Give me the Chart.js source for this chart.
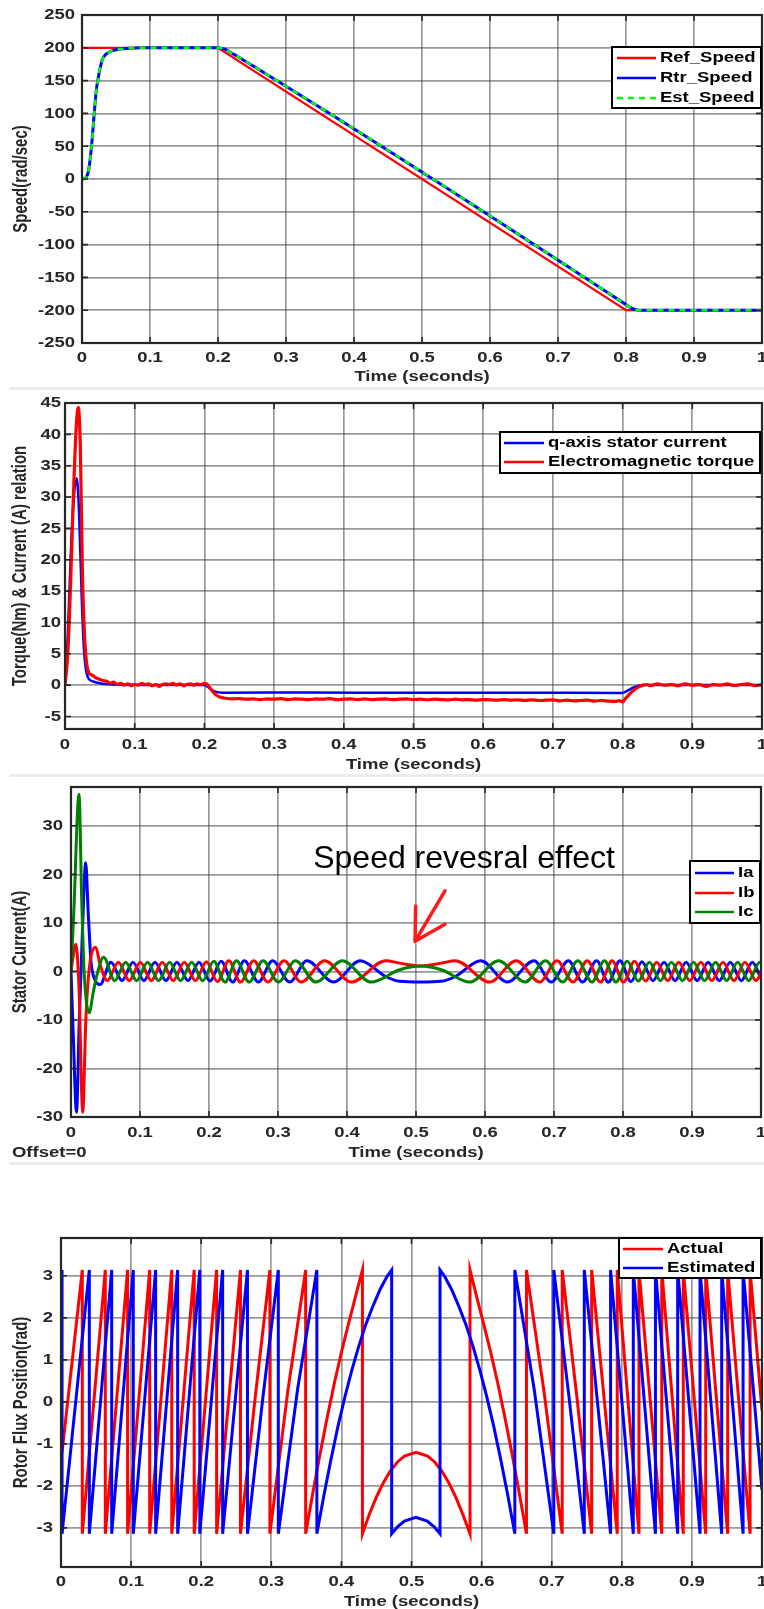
<!DOCTYPE html>
<html>
<head>
<meta charset="utf-8">
<title>Sensorless drive – speed reversal test</title>
<script src="https://cdn.jsdelivr.net/npm/chart.js@4.4.0/dist/chart.umd.min.js"></script>
<style>
  html, body { margin: 0; padding: 0; background: #fff; width: 764px; height: 1609px; overflow: hidden; }
  canvas { position: absolute; left: 0; }
  .sep { position: absolute; left: 9px; width: 755px; height: 3px; background: #ebebeb; }
</style>
</head>
<body>
<canvas id="cSpeed"></canvas>
<div class="sep" style="top:387px"></div>
<canvas id="cTorque"></canvas>
<div class="sep" style="top:774px"></div>
<canvas id="cCurrent"></canvas>
<div class="sep" style="top:1162px"></div>
<canvas id="cFlux"></canvas>
<script>
// ---------- shared time axis ----------
const TIME_TICKS  = [0, 0.1, 0.2, 0.3, 0.4, 0.5, 0.6, 0.7, 0.8, 0.9, 1];
const TIME_LABELS = ['0', '0.1', '0.2', '0.3', '0.4', '0.5', '0.6', '0.7', '0.8', '0.9', '1'];

// ---------- speed (rad/sec) ----------
const SPEED_TICKS  = [-250, -200, -150, -100, -50, 0, 50, 100, 150, 200, 250];
const SPEED_LABELS = ['-250', '-200', '-150', '-100', '-50', '0', '50', '100', '150', '200', '250'];
const SPEED_REF = [[0, 200], [0.2, 200], [0.8, -200], [1, -200]];
const SPEED_RTR = [[0, 0], [0.003, 0.5], [0.007, 4], [0.01, 15], [0.014, 50], [0.018, 100], [0.021, 135],
  [0.024, 155], [0.027, 171], [0.03, 182], [0.035, 190], [0.041, 194], [0.05, 197], [0.066, 199],
  [0.09, 200], [0.2, 200], [0.205, 199.5], [0.21, 198], [0.215, 195.5], [0.22, 192], [0.23, 186],
  [0.8, -191.5], [0.805, -195], [0.81, -197.8], [0.815, -199.3], [0.82, -200], [1, -200]];
const SPEED_EST = [[0, 0], [0.003, 0.5], [0.007, 4], [0.01, 15], [0.014, 49], [0.018, 99], [0.021, 134],
  [0.024, 155], [0.027, 171], [0.03, 182], [0.035, 190], [0.041, 194], [0.05, 197], [0.066, 199],
  [0.09, 200], [0.2, 200], [0.205, 199.5], [0.21, 198], [0.215, 195.5], [0.22, 192], [0.23, 186],
  [0.8, -191.5], [0.805, -195], [0.81, -197.8], [0.815, -199.3], [0.82, -200], [1, -200]];

// ---------- torque & q-axis current ----------
const TORQUE_TICKS  = [-5, 0, 5, 10, 15, 20, 25, 30, 35, 40, 45];
const TORQUE_LABELS = ['-5', '0', '5', '10', '15', '20', '25', '30', '35', '40', '45'];
const IQ_CURRENT = [[0, 0], [0.004, 8], [0.008, 20], [0.012, 29], [0.0168, 33], [0.02, 28], [0.024, 14],
  [0.027, 6], [0.03, 2.5], [0.033, 1.2], [0.036, 0.8], [0.04, 0.6], [0.05, 0.3], [0.07, 0.1], [0.1, 0.05],
  [0.13, 0], [0.16, 0.05], [0.2, 0], [0.205, -0.3], [0.21, -0.7], [0.215, -1.0], [0.225, -1.2], [0.35, -1.18],
  [0.5, -1.22], [0.65, -1.2], [0.8, -1.25], [0.805, -1.0], [0.81, -0.7], [0.815, -0.4], [0.82, -0.2],
  [0.83, 0], [0.9, 0.02], [1, 0]];
const EM_TORQUE = [[0, 0], [0.004, 5], [0.008, 16], [0.012, 30], [0.016, 41], [0.019, 44.3], [0.022, 38],
  [0.025, 18], [0.028, 8], [0.031, 3.5], [0.034, 2], [0.037, 1.7], [0.04, 1.5], [0.044, 1.2], [0.048, 1.0],
  [0.052, 0.8], [0.056, 0.7], [0.06, 0.6], [0.065, 0.3], [0.07, 0.5], [0.075, 0.1], [0.08, 0.3], [0.085, 0.0],
  [0.09, 0.2], [0.095, -0.1], [0.1, 0.1], [0.105, 0.0], [0.11, 0.3], [0.115, 0.1], [0.12, 0.2], [0.125, -0.1],
  [0.13, 0.1], [0.135, -0.2], [0.14, 0.1], [0.145, 0.2], [0.15, 0.1], [0.155, 0.3], [0.16, 0.0], [0.165, 0.2],
  [0.17, -0.1], [0.175, 0.1], [0.18, 0.2], [0.185, 0.0], [0.19, 0.2], [0.195, 0.1], [0.2, 0.3], [0.203, 0.2],
  [0.207, -0.3], [0.211, -0.9], [0.215, -1.4], [0.22, -1.8], [0.225, -2.0], [0.23, -2.1],
  [0.24, -2.2], [0.25, -2.15], [0.26, -2.25], [0.27, -2.2], [0.28, -2.3], [0.29, -2.2], [0.3, -2.25],
  [0.31, -2.15], [0.32, -2.3], [0.33, -2.2], [0.34, -2.25], [0.35, -2.3], [0.36, -2.2], [0.37, -2.25],
  [0.38, -2.15], [0.39, -2.3], [0.4, -2.25], [0.41, -2.2], [0.42, -2.3], [0.43, -2.2], [0.44, -2.3],
  [0.45, -2.25], [0.46, -2.2], [0.47, -2.3], [0.48, -2.25], [0.49, -2.2], [0.5, -2.3], [0.51, -2.25],
  [0.52, -2.35], [0.53, -2.25], [0.54, -2.3], [0.55, -2.35], [0.56, -2.25], [0.57, -2.35], [0.58, -2.3],
  [0.59, -2.4], [0.6, -2.3], [0.61, -2.35], [0.62, -2.4], [0.63, -2.3], [0.64, -2.4], [0.65, -2.35],
  [0.66, -2.45], [0.67, -2.35], [0.68, -2.45], [0.69, -2.4], [0.7, -2.35], [0.71, -2.5], [0.72, -2.4],
  [0.73, -2.5], [0.74, -2.45], [0.75, -2.4], [0.76, -2.55], [0.77, -2.45], [0.78, -2.55], [0.79, -2.6],
  [0.795, -2.45], [0.8, -2.7], [0.803, -2.3], [0.807, -1.8], [0.811, -1.3], [0.815, -0.9], [0.82, -0.5],
  [0.825, -0.2], [0.83, 0.0], [0.835, 0.1], [0.84, -0.1], [0.85, 0.2], [0.86, 0.0], [0.87, 0.1], [0.88, -0.1],
  [0.89, 0.2], [0.9, 0.0], [0.91, 0.1], [0.92, -0.2], [0.93, 0.1], [0.94, 0.0], [0.95, 0.2], [0.96, -0.1],
  [0.97, 0.1], [0.98, 0.2], [0.99, -0.1], [1, 0.1]];

// ---------- stator phase currents (A) ----------
const CURRENT_TICKS  = [-30, -20, -10, 0, 10, 20, 30];
const CURRENT_LABELS = ['-30', '-20', '-10', '0', '10', '20', '30'];
const PHASE_A = [[0, 0], [0.003, -12], [0.008, -29], [0.012, -10], [0.0165, 8], [0.0213, 22.4], [0.025, 12],
  [0.029, 2], [0.034, -1.5], [0.042, -2.7], [0.058, 1.9], [0.0739, -1.9], [0.0898, 1.9], [0.1057, -1.9],
  [0.1217, 1.9], [0.1376, -1.9], [0.1535, 1.9], [0.1695, -1.9], [0.1855, 1.9], [0.2015, -2.0], [0.2175, 2.1],
  [0.2343, -2.2], [0.2512, 2.2], [0.2716, -2.2], [0.2921, 2.2], [0.317, -2.2], [0.3419, 2.2], [0.3805, -2.2],
  [0.419, 2.2], [0.4565, -1.1], [0.4765, -2.05], [0.5065, -2.2], [0.5365, -2.05], [0.5565, -1.1], [0.594, 2.2],
  [0.6325, -2.2], [0.6711, 2.2], [0.696, -2.2], [0.7209, 2.2], [0.7414, -2.2], [0.7618, 2.2], [0.7787, -2.2],
  [0.7955, 2.2], [0.8115, -2.1], [0.8275, 2.0], [0.8435, -1.9], [0.8595, 1.9], [0.8755, -1.9], [0.8915, 1.9],
  [0.9075, -1.9], [0.9235, 1.9], [0.9395, -1.9], [0.9555, 1.9], [0.9715, -1.9], [0.9875, 1.9], [1, -1.5]];
const PHASE_B = [[0, 0], [0.007, 5.6], [0.0115, -3], [0.017, -29], [0.0215, -10], [0.026, 0], [0.0358, 5],
  [0.042, 1.5], [0.0527, -1.9], [0.0686, 1.9], [0.0845, -1.9], [0.1004, 1.9], [0.1164, -1.9], [0.1323, 1.9],
  [0.1482, -1.9], [0.1642, 1.9], [0.1802, -1.9], [0.1962, 2.0], [0.2122, -2.1], [0.2287, 2.2], [0.2456, -2.2],
  [0.2648, 2.2], [0.2853, -2.2], [0.3087, 2.2], [0.3336, -2.2], [0.3676, 2.2], [0.4062, -2.2], [0.456, 2.2],
  [0.4765, 1.71], [0.5065, 1.1], [0.5365, 1.71], [0.557, 2.2], [0.6068, -2.2], [0.6454, 2.2], [0.6794, -2.2],
  [0.7043, 2.2], [0.7277, -2.2], [0.7482, 2.2], [0.7674, -2.2], [0.7843, 2.2], [0.8008, -2.2], [0.8168, 2.1],
  [0.8328, -2.0], [0.8488, 1.9], [0.8648, -1.9], [0.8808, 1.9], [0.8968, -1.9], [0.9128, 1.9], [0.9288, -1.9],
  [0.9448, 1.9], [0.9608, -1.9], [0.9768, 1.9], [0.9928, -1.9], [1, -0.3]];
const PHASE_C = [[0, 0], [0.004, 12], [0.0116, 36.5], [0.0155, 15], [0.019, 0], [0.0265, -8.5], [0.032, -4.5],
  [0.038, -0.5], [0.0473, 2.9], [0.0633, -1.9], [0.0792, 1.9], [0.0951, -1.9], [0.111, 1.9], [0.127, -1.9],
  [0.1429, 1.9], [0.1588, -1.9], [0.1748, 1.9], [0.1908, -1.9], [0.2068, 2.1], [0.2231, -2.2], [0.2399, 2.2],
  [0.258, -2.2], [0.2784, 2.2], [0.3004, -2.2], [0.3253, 2.2], [0.3548, -2.2], [0.3933, 2.2], [0.435, -2.2],
  [0.4765, 0.35], [0.5065, 1.1], [0.5365, 0.35], [0.578, -2.2], [0.6197, 2.2], [0.6582, -2.2], [0.6877, 2.2],
  [0.7126, -2.2], [0.7346, 2.2], [0.755, -2.2], [0.7731, 2.2], [0.7899, -2.2], [0.8062, 2.1], [0.8222, -2.0],
  [0.8382, 1.9], [0.8542, -1.9], [0.8702, 1.9], [0.8862, -1.9], [0.9022, 1.9], [0.9182, -1.9], [0.9342, 1.9],
  [0.9502, -1.9], [0.9662, 1.9], [0.9822, -1.9], [0.9982, 1.9], [1, 1.88]];

// ---------- rotor flux position (rad) ----------
const FLUX_TICKS  = [-3, -2, -1, 0, 1, 2, 3];
const FLUX_LABELS = ['-3', '-2', '-1', '0', '1', '2', '3'];
const FLUX_ACTUAL = [[0, 0], [0.0015, -1.2], [0.0304, 3.14], [0.0304, -3.14], [0.0632, 3.14], [0.0632, -3.14],
  [0.095, 3.14], [0.095, -3.14], [0.1265, 3.14], [0.1265, -3.14], [0.158, 3.14], [0.158, -3.14], [0.19, 3.14],
  [0.19, -3.14], [0.222, 3.14], [0.222, -3.14], [0.256, 3.14], [0.256, -3.14], [0.277, 0.1], [0.298, 3.14],
  [0.298, -3.14], [0.3235, 0.25], [0.349, 3.14], [0.349, -3.14], [0.36, -2.1], [0.37, -1.2], [0.38, -0.35],
  [0.39, 0.45], [0.4, 1.18], [0.41, 1.85], [0.42, 2.5], [0.43, 3.14], [0.43, -3.14], [0.44, -2.67],
  [0.45, -2.26], [0.46, -1.92], [0.47, -1.64], [0.48, -1.43], [0.49, -1.29], [0.5065, -1.2], [0.523, -1.29],
  [0.533, -1.43], [0.543, -1.64], [0.553, -1.92], [0.563, -2.26], [0.573, -2.67], [0.5835, -3.14],
  [0.5835, 3.14], [0.593, 2.5], [0.603, 1.85], [0.613, 1.18], [0.623, 0.45], [0.633, -0.35], [0.643, -1.2],
  [0.653, -2.1], [0.664, -3.14], [0.664, 3.14], [0.689, 0.25], [0.715, -3.14], [0.715, 3.14], [0.736, 0.1],
  [0.757, -3.14], [0.757, 3.14], [0.7935, -3.14], [0.7935, 3.14], [0.8245, -3.14], [0.8245, 3.14], [0.857, -3.14],
  [0.857, 3.14], [0.8877, -3.14], [0.8877, 3.14], [0.9197, -3.14], [0.9197, 3.14], [0.951, -3.14], [0.951, 3.14],
  [0.983, -3.14], [0.983, 3.14], [1, -0.2]];
const FLUX_ESTIMATED = [[0, 0], [0.0015, 3.14], [0.0015, -3.14], [0.0404, 3.14], [0.0404, -3.14], [0.0723, 3.14],
  [0.0723, -3.14], [0.1031, 3.14], [0.1031, -3.14], [0.135, 3.14], [0.135, -3.14], [0.1664, 3.14], [0.1664, -3.14],
  [0.198, 3.14], [0.198, -3.14], [0.2306, 3.14], [0.2306, -3.14], [0.266, 3.14], [0.266, -3.14], [0.288, 0.1],
  [0.31, 3.14], [0.31, -3.14], [0.3375, 0.3], [0.365, 3.14], [0.365, -3.14], [0.375, -2.23], [0.385, -1.38],
  [0.395, -0.59], [0.405, 0.12], [0.415, 0.76], [0.425, 1.34], [0.435, 1.85], [0.445, 2.28], [0.455, 2.67],
  [0.465, 2.98], [0.4717, 3.14], [0.4717, -3.14], [0.48, -2.975], [0.49, -2.84], [0.5062, -2.75], [0.5224, -2.84],
  [0.5324, -2.975], [0.5407, -3.14], [0.5407, 3.14], [0.5474, 2.98], [0.5574, 2.67], [0.5674, 2.28],
  [0.5774, 1.85], [0.5874, 1.34], [0.5974, 0.76], [0.6074, 0.12], [0.6174, -0.59], [0.6274, -1.38],
  [0.6374, -2.23], [0.6474, -3.14], [0.6474, 3.14], [0.675, 0.3], [0.703, -3.14], [0.703, 3.14], [0.7248, 0.1],
  [0.7465, -3.14], [0.7465, 3.14], [0.784, -3.14], [0.784, 3.14], [0.8164, -3.14], [0.8164, 3.14], [0.848, -3.14],
  [0.848, 3.14], [0.8797, -3.14], [0.8797, 3.14], [0.9116, -3.14], [0.9116, 3.14], [0.9425, -3.14], [0.9425, 3.14],
  [0.973, -3.14], [0.973, 3.14], [1, -2.1]];

// ---------- look ----------
const INK = '#262626';
const GRID = 'rgba(70,70,70,0.55)';
const LABEL_FONT = 'bold 14px "Liberation Sans"';
const YTITLE_FONT = 'bold 15px "Liberation Sans"';
const WIDEN = 1.32;   // the figure's lettering is set wide

function toXY(rows) { return rows.map(r => ({ x: r[0], y: r[1] })); }

// Horizontal text, widened about its anchor point.
function wideText(c, text, x, y, align) {
  c.save();
  c.textAlign = align;
  c.textBaseline = 'middle';
  c.translate(x, y);
  c.scale(WIDEN, 1);
  c.fillText(text, 0, 0);
  c.restore();
}

// Box, inward tick marks, tick labels, legend and axis titles, drawn over the plotted lines.
function makeFrame(spec) {
  return {
    id: 'frame_' + spec.id,
    afterDatasetsDraw(chart) {
      const c = chart.ctx, a = chart.chartArea, sx = chart.scales.x, sy = chart.scales.y;
      const off = spec.canvas[0];
      c.save();
      c.strokeStyle = INK;
      c.lineWidth = 1.6;
      c.beginPath();
      sx.ticks.forEach(t => {
        const p = sx.getPixelForValue(t.value);
        c.moveTo(p, a.top); c.lineTo(p, a.top + 6);
        c.moveTo(p, a.bottom); c.lineTo(p, a.bottom - 6);
      });
      sy.ticks.forEach(t => {
        const p = sy.getPixelForValue(t.value);
        c.moveTo(a.left, p); c.lineTo(a.left + 6, p);
        c.moveTo(a.right, p); c.lineTo(a.right - 6, p);
      });
      c.stroke();
      c.lineWidth = 2.2;
      c.strokeRect(a.left, a.top, a.right - a.left, a.bottom - a.top);

      // tick labels
      c.fillStyle = INK;
      c.font = LABEL_FONT;
      sx.ticks.forEach((t, i) => wideText(c, TIME_LABELS[i], sx.getPixelForValue(t.value), a.bottom + spec.xLabelDy, 'center'));
      sy.ticks.forEach((t, i) => wideText(c, spec.yLabels[i], a.left - spec.yLabelGap, sy.getPixelForValue(t.value) + 0.5, 'right'));

      if (spec.note) {
        const n = spec.note;
        c.fillStyle = '#000';
        c.font = n.font;
        c.textAlign = 'left';
        c.textBaseline = 'alphabetic';
        c.fillText(n.text, sx.getPixelForValue(n.at[0]), sy.getPixelForValue(n.at[1]));
        c.strokeStyle = n.color;
        c.lineWidth = 3.5;
        c.lineCap = 'round';
        const tip = [sx.getPixelForValue(n.arrow.tip[0]), sy.getPixelForValue(n.arrow.tip[1])];
        c.beginPath();
        [n.arrow.tail, n.arrow.barbA, n.arrow.barbB].forEach(q => {
          c.moveTo(tip[0], tip[1]);
          c.lineTo(sx.getPixelForValue(q[0]), sy.getPixelForValue(q[1]));
        });
        c.stroke();
        c.lineCap = 'butt';
      }

      const L = spec.legend;
      c.fillStyle = '#fff';
      c.fillRect(L.box[0], L.box[1] - off, L.box[2], L.box[3]);
      c.strokeStyle = '#000';
      c.lineWidth = 2;
      c.strokeRect(L.box[0], L.box[1] - off, L.box[2], L.box[3]);
      c.font = LABEL_FONT;
      chart.data.datasets.forEach((ds, i) => {
        const y = L.rows[i] - off;
        c.strokeStyle = ds.borderColor;
        c.lineWidth = 2.6;
        c.setLineDash(ds.borderDash || []);
        c.beginPath(); c.moveTo(L.line[0], y); c.lineTo(L.line[1], y); c.stroke();
        c.setLineDash([]);
        c.fillStyle = '#000';
        wideText(c, ds.label, L.text, y + 0.5, 'left');
      });

      // axis titles
      c.fillStyle = INK;
      c.font = YTITLE_FONT;
      c.save();
      c.textAlign = 'center';
      c.textBaseline = 'middle';
      c.translate(spec.yTitleX, (a.top + a.bottom) / 2);
      c.rotate(-Math.PI / 2);
      c.scale(1, WIDEN);
      c.fillText(spec.yTitle, 0, 0);
      c.restore();
      c.font = LABEL_FONT;
      wideText(c, 'Time (seconds)', (a.left + a.right) / 2, spec.xTitleY - off, 'center');
      if (spec.corner) wideText(c, spec.corner.text, spec.corner.x, spec.corner.y - off, 'left');
      c.restore();
    }
  };
}

function buildPanel(spec) {
  const cv = document.getElementById(spec.id);
  const [top, bottom] = spec.canvas;
  const h = bottom - top;
  cv.width = 764; cv.height = h;
  cv.style.top = top + 'px';
  cv.style.width = '764px'; cv.style.height = h + 'px';
  const P = spec.plot;
  const n = spec.series.length;
  return new Chart(cv, {
    type: 'line',
    data: {
      datasets: spec.series.map((s, i) => ({
        label: s.label,
        data: toXY(s.data),
        borderColor: s.color,
        borderWidth: s.width,
        borderDash: s.dash || [],
        pointRadius: 0,
        fill: false,
        tension: 0,
        order: n - i,            // later series are painted on top
        cubicInterpolationMode: s.smooth ? 'monotone' : 'default'
      }))
    },
    options: {
      responsive: false,
      animation: false,
      devicePixelRatio: 1,
      layout: { padding: { left: 0, top: P.top - top, right: 764 - P.right, bottom: 0 } },
      plugins: { legend: { display: false }, tooltip: { enabled: false } },
      scales: {
        x: {
          type: 'linear', min: 0, max: 1,
          grid: { color: GRID, lineWidth: 1.7, drawTicks: false },
          border: { display: false },
          ticks: { display: false },
          afterBuildTicks: s => { s.ticks = TIME_TICKS.map(v => ({ value: v })); },
          afterFit: s => { s.height = bottom - P.bottom; s.paddingLeft = 0; s.paddingRight = 0; }
        },
        y: {
          type: 'linear', min: spec.yRange[0], max: spec.yRange[1],
          grid: { color: GRID, lineWidth: 1.7, drawTicks: false },
          border: { display: false },
          ticks: { display: false },
          afterBuildTicks: s => { s.ticks = spec.yTicks.map(v => ({ value: v })); },
          afterFit: s => { s.width = P.left; s.paddingTop = 0; s.paddingBottom = 0; }
        }
      }
    },
    plugins: [makeFrame(spec)]
  });
}

buildPanel({
  id: 'cSpeed', canvas: [0, 387], plot: { left: 82, top: 15, right: 762, bottom: 343 },
  yRange: [-250, 250], yTicks: SPEED_TICKS, yLabels: SPEED_LABELS, xLabelDy: 15, yLabelGap: 7,
  yTitle: 'Speed(rad/sec)', yTitleX: 22, xTitleY: 377,
  legend: { box: [612, 47, 149, 61], rows: [58, 78, 98], line: [617, 656], text: 660 },
  series: [
    { label: 'Ref_Speed', data: SPEED_REF, color: '#ff0000', width: 2.3 },
    { label: 'Rtr_Speed', data: SPEED_RTR, color: '#0000ff', width: 3, smooth: true },
    { label: 'Est_Speed', data: SPEED_EST, color: '#00ff00', width: 2.5, dash: [6, 5], smooth: true }
  ]
});

buildPanel({
  id: 'cTorque', canvas: [390, 774], plot: { left: 65, top: 403, right: 762, bottom: 729 },
  yRange: [-7, 45], yTicks: TORQUE_TICKS, yLabels: TORQUE_LABELS, xLabelDy: 16, yLabelGap: 4,
  yTitle: 'Torque(Nm) & Current (A) relation', yTitleX: 21, xTitleY: 765,
  legend: { box: [500, 432, 260, 41], rows: [443, 462], line: [504, 544], text: 548 },
  series: [
    { label: 'q-axis stator current', data: IQ_CURRENT, color: '#0000ff', width: 2.5, smooth: true },
    { label: 'Electromagnetic torque', data: EM_TORQUE, color: '#ff0000', width: 3.2, smooth: true }
  ]
});

buildPanel({
  id: 'cCurrent', canvas: [777, 1162], plot: { left: 71, top: 787, right: 761, bottom: 1117 },
  yRange: [-30, 38], yTicks: CURRENT_TICKS, yLabels: CURRENT_LABELS, xLabelDy: 16, yLabelGap: 8,
  yTitle: 'Stator Current(A)', yTitleX: 21, xTitleY: 1153,
  corner: { text: 'Offset=0', x: 12, y: 1153 },
  legend: { box: [690, 861, 70, 62], rows: [873, 893, 912], line: [695, 734], text: 738 },
  note: {
    text: 'Speed revesral effect', font: '32px "Liberation Sans"', at: [0.351, 21.4], color: '#ff1a1a',
    arrow: { tip: [0.4986, 6.2], tail: [0.542, 16.6], barbA: [0.4995, 13.5], barbB: [0.542, 9.7] }
  },
  series: [
    { label: 'Ia', data: PHASE_A, color: '#0000ff', width: 3, smooth: true },
    { label: 'Ib', data: PHASE_B, color: '#ff0000', width: 3, smooth: true },
    { label: 'Ic', data: PHASE_C, color: '#008000', width: 3, smooth: true }
  ]
});

buildPanel({
  id: 'cFlux', canvas: [1165, 1609], plot: { left: 61, top: 1238, right: 762, bottom: 1567 },
  yRange: [-3.93, 3.9], yTicks: FLUX_TICKS, yLabels: FLUX_LABELS, xLabelDy: 15, yLabelGap: 8,
  yTitle: 'Rotor Flux Position(rad)', yTitleX: 22, xTitleY: 1602,
  legend: { box: [619, 1238, 142, 40], rows: [1249, 1268], line: [623, 663], text: 667 },
  series: [
    { label: 'Actual', data: FLUX_ACTUAL, color: '#ff0000', width: 3 },
    { label: 'Estimated', data: FLUX_ESTIMATED, color: '#0000ff', width: 3 }
  ]
});
</script>
</body>
</html>
